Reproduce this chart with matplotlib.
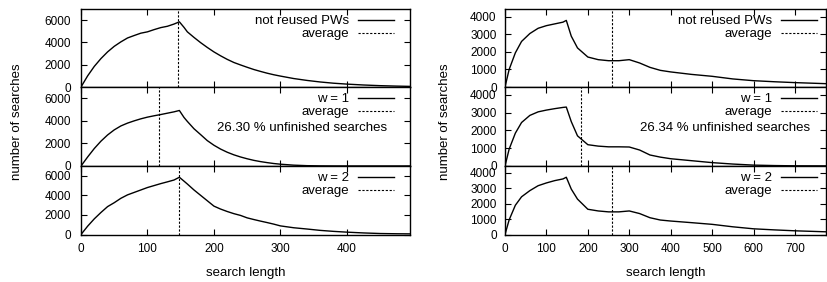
import matplotlib
matplotlib.use("Agg")
import matplotlib.pyplot as plt
import numpy as np

plt.rcParams['font.family'] = ['Liberation Sans', 'DejaVu Sans']

# ---------------- data ----------------
# left column: search length 0..495
left_x = [0, 10, 20, 30, 40, 50, 60, 70, 80, 90, 100, 110, 120, 130, 140, 148,
          155, 160, 170, 180, 190, 200, 210, 220, 230, 240, 250, 260, 270, 280,
          290, 300, 320, 340, 360, 380, 400, 425, 450, 475, 495]
left_top = [0, 1000, 1850, 2550, 3150, 3650, 4050, 4400, 4620, 4830, 4950, 5150, 5330, 5450,
            5650, 5850, 5350, 4950, 4450, 3980, 3550, 3150, 2800, 2480, 2200, 1980,
            1770, 1570, 1400, 1240, 1100, 980, 760, 590, 450, 340, 260, 180, 120, 80, 55]
left_mid = [0, 800, 1550, 2200, 2750, 3200, 3550, 3800, 4000, 4180, 4330, 4450, 4560, 4680,
            4800, 4920, 4300, 3950, 3300, 2780, 2250, 1840, 1500, 1220, 990, 800,
            640, 500, 390, 300, 220, 160, 75, 30, 10, 3, 0, 0, 0, 0, 0]
left_bot = [0, 850, 1600, 2250, 2850, 3250, 3700, 4050, 4300, 4550, 4800, 5000, 5200, 5380,
            5570, 5850, 5450, 5160, 4550, 4000, 3450, 2900, 2600, 2350, 2130, 1950,
            1700, 1530, 1370, 1220, 1060, 880, 690, 560, 420, 320, 240, 160, 100, 75, 65]

# right column: search length 0..775
right_x = [0, 10, 25, 40, 60, 80, 100, 120, 140, 148, 160, 175, 200, 225, 250, 275,
           300, 325, 350, 375, 400, 450, 500, 550, 600, 650, 700, 775]
right_top = [0, 1000, 1950, 2600, 3050, 3350, 3500, 3600, 3700, 3800, 2900, 2230, 1710,
             1560, 1500, 1500, 1560, 1370, 1120, 950, 860, 720, 610, 460, 360, 300, 250, 190]
right_mid = [0, 950, 1850, 2450, 2850, 3050, 3150, 3230, 3300, 3320, 2500, 1700, 1200,
             1120, 1080, 1080, 1070, 900, 620, 500, 410, 300, 190, 110, 50, 25, 10, 5]
right_bot = [0, 950, 1900, 2450, 2850, 3170, 3350, 3500, 3610, 3720, 2950, 2300, 1640,
             1530, 1470, 1470, 1530, 1360, 1090, 940, 875, 770, 660, 500, 370, 300, 240, 175]

series_labels = ["not reused PWs", "w = 1", "w = 2"]
left_avg = [146, 117, 147]
right_avg = [258, 184, 259]
left_unfinished = "26.30 % unfinished searches"
right_unfinished = "26.34 % unfinished searches"

# ---------------- layout ----------------
W, H = 827, 282
fig = plt.figure(figsize=(W / 100, H / 100), dpi=100)

def fx(px):
    return px / W

def fy(py):
    return 1 - py / H

rows_px = [(9, 87), (87, 166), (166, 234.5)]
cols_px = [(81, 410), (505, 826)]

TICK_FS = 8.5
TXT_FS = 9.5

columns = [
    dict(x=left_x, ys=[left_top, left_mid, left_bot], avg=left_avg, xlim=(0, 495),
         ylim=(0, 7000), yticks=[0, 2000, 4000, 6000], xticks=range(0, 401, 100),
         unfinished=left_unfinished, legend_margin=16),
    dict(x=right_x, ys=[right_top, right_mid, right_bot], avg=right_avg, xlim=(0, 775),
         ylim=(0, 4450), yticks=[0, 1000, 2000, 3000, 4000], xticks=range(0, 701, 100),
         unfinished=right_unfinished, legend_margin=9),
]

for ci, col in enumerate(columns):
    x0, x1 = cols_px[ci]
    for ri in range(3):
        y0, y1 = rows_px[ri]
        ax = fig.add_axes([fx(x0), fy(y1), fx(x1 - x0), (y1 - y0) / H])
        ax.plot(col['x'], col['ys'][ri], color='black', lw=1.0, label=series_labels[ri])
        ax.axvline(col['avg'][ri], color='black', lw=0.8, ls=(0, (2, 1.5)), label='average')
        ax.set_xlim(*col['xlim'])
        ax.set_ylim(*col['ylim'])
        ax.set_yticks(col['yticks'])
        ax.set_xticks(list(col['xticks']))
        ax.tick_params(direction='in', top=True, right=True, length=4, width=0.8,
                       labelsize=TICK_FS)
        ax.tick_params(axis='y', pad=7 if ci == 0 else 6)
        ax.tick_params(axis='x', pad=6)
        if ri < 2:
            ax.tick_params(labelbottom=False)
        else:
            ax.set_xlabel('search length', fontsize=TXT_FS, labelpad=9)
        for s in ax.spines.values():
            s.set_linewidth(1.0)
        axw = x1 - x0
        axh = y1 - y0
        leg = ax.legend(loc='upper right', frameon=False, markerfirst=False,
                        fontsize=TXT_FS, handlelength=2.7, handletextpad=0.7,
                        labelspacing=0.05, borderpad=0, borderaxespad=0,
                        bbox_to_anchor=(1 - col['legend_margin'] / axw, 1 - 6 / axh))
        if ri == 1:
            ax.text(1 - (col['legend_margin'] + 7) / axw, 1 - 41 / axh, col['unfinished'],
                    transform=ax.transAxes, ha='right', va='center', fontsize=TXT_FS)

fig.text(fx(17), fy(121.5), 'number of searches', rotation=90, ha='center', va='center',
         fontsize=TXT_FS)
fig.text(fx(445), fy(121.5), 'number of searches', rotation=90, ha='center', va='center',
         fontsize=TXT_FS)

fig.savefig('out.png', dpi=100)
